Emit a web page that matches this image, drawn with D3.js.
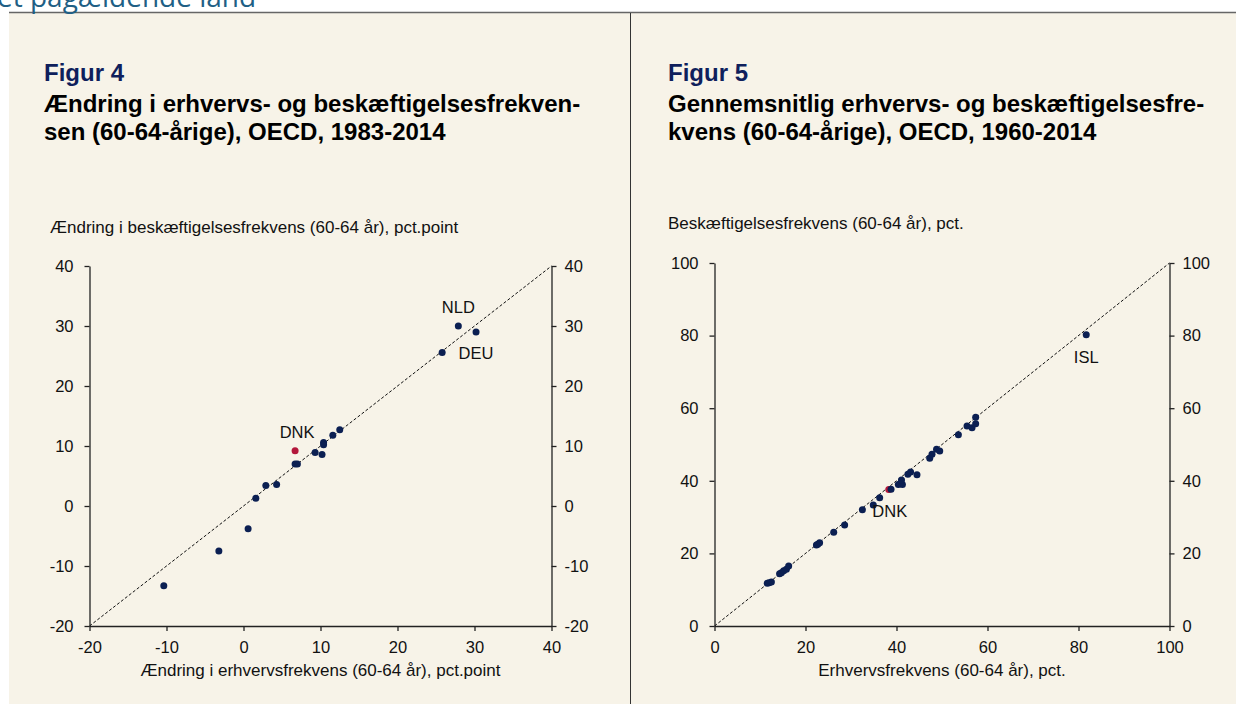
<!DOCTYPE html>
<html><head><meta charset="utf-8">
<script src="https://cdn.jsdelivr.net/npm/d3@7"></script>
<style>
body{margin:0;background:#fff;}
svg{display:block;font-family:"Liberation Sans",Arial,sans-serif;}
</style></head>
<body><svg id="c" width="1236" height="704"></svg>
<script>
// Figur 4 data: change in participation rate (x) vs change in employment rate (y), pct.point
const fig4Countries = ["A","B","C","D","E","F","G","H","DNK","I","J","K","L","M","N","O","NLD","DEU"];
const fig4X = [-10.35,-3.2,0.6,1.6,2.9,4.3,6.7,7.0,6.7,9.3,10.2,10.4,10.4,11.6,12.5,25.8,27.9,30.2];
const fig4Y = [-13.3,-7.5,-3.8,1.3,3.4,3.6,7.0,7.0,9.2,8.9,8.6,10.6,10.2,11.8,12.7,25.6,30.0,29.0];
// Figur 5 data: average participation rate (x) vs employment rate (y), pct.
const fig5X = [11.6,12.0,12.5,14.3,14.7,15.2,15.8,16.3,22.4,22.7,23.1,26.2,28.6,32.5,34.9,36.3,38.3,38.8,40.4,40.9,41.3,41.1,42.5,43.1,44.5,47.3,47.8,48.8,49.5,53.6,55.5,56.6,57.4,57.4,81.7];
const fig5Y = [11.8,11.9,12.1,14.4,14.7,15.2,15.6,16.5,22.3,22.5,22.9,25.8,27.8,32.0,33.3,35.3,37.6,37.7,39.0,39.3,39.0,40.2,41.8,42.4,41.7,46.2,47.3,48.7,48.2,52.7,55.1,54.6,55.7,57.5,80.2];
const fig5Countries = fig5X.map((d,i)=> i===16 ? "DNK" : (i===34 ? "ISL" : "c"+i));
const fig4Ticks = [-20,-10,0,10,20,30,40];
const fig5Ticks = [0,20,40,60,80,100];

const svg = d3.select("#c");
const navy = "#0b1f52", red = "#b3173b", bg = "#f7f3e8";
const FS = 16.5, TS = 17;

// background panels
svg.append("rect").attr("x",9).attr("y",13).attr("width",1227).attr("height",691).attr("fill",bg);
svg.append("line").attr("x1",9).attr("x2",1236).attr("y1",12.5).attr("y2",12.5).attr("stroke","#666").attr("stroke-width",1.5);
svg.append("line").attr("x1",630.5).attr("x2",630.5).attr("y1",13).attr("y2",704).attr("stroke","#333").attr("stroke-width",1);
svg.append("text").attr("x",-3).attr("y",6.5).attr("font-family","'Open Sans',sans-serif").attr("font-size",28).attr("fill","#1f5f85").text("et pågældende land");

function panel(opt){
  const g = svg.append("g");
  g.append("text").attr("x",opt.tx).attr("y",81).attr("font-size",24).attr("font-weight","bold").attr("fill","#0f1f5c").text(opt.fig);
  opt.title.forEach((t,i)=> g.append("text").attr("x",opt.tx).attr("y",112+i*27.5).attr("font-size",24).attr("font-weight","bold").attr("fill","#000").text(t));
  g.append("text").attr("x",opt.ytx).attr("y",opt.yty).attr("font-size",TS).attr("fill","#111").text(opt.ytitle);
  const x = d3.scaleLinear().domain(opt.dom).range(opt.xr);
  const y = d3.scaleLinear().domain(opt.dom).range(opt.yr);
  const fmt = d => String(d);
  const ax = g.append("g").attr("transform",`translate(0,${opt.yr[0]})`).call(d3.axisBottom(x).tickValues(opt.ticks).tickFormat(fmt).tickSize(5).tickSizeOuter(0));
  const al = g.append("g").attr("transform",`translate(${opt.xr[0]},0)`).call(d3.axisLeft(y).tickValues(opt.ticks).tickFormat(fmt).tickSize(5).tickSizeOuter(0));
  const ar = g.append("g").attr("transform",`translate(${opt.xr[1]},0)`).call(d3.axisRight(y).tickValues(opt.ticks).tickFormat(fmt).tickSize(5).tickSizeOuter(0));
  [ax,al,ar].forEach(a=>{
    a.selectAll("path").attr("stroke","#222").attr("stroke-width",1.3);
    a.selectAll("line").attr("stroke","#222").attr("stroke-width",1.3);
    a.selectAll("text").attr("font-size",FS).attr("fill","#111").attr("font-family","'Liberation Sans',Arial,sans-serif");
  });
  ax.selectAll("text").attr("y",15);
  al.selectAll("text").attr("x",-16);
  ar.selectAll("text").attr("x",13);
  g.append("text").attr("x",(opt.xr[0]+opt.xr[1])/2).attr("y",676).attr("text-anchor","middle").attr("font-size",TS).attr("fill","#111").text(opt.xtitle);
  g.append("line").attr("x1",x(opt.dom[0])).attr("y1",y(opt.dom[0])).attr("x2",x(opt.dom[1])).attr("y2",y(opt.dom[1]))
    .attr("stroke","#111").attr("stroke-width",1).attr("stroke-dasharray","3,2");
  const data = opt.xs.map((v,i)=>({x:v,y:opt.ys[i],c:opt.cs[i]}));
  g.selectAll("circle.p").data(data).join("circle").attr("cx",d=>x(d.x)).attr("cy",d=>y(d.y)).attr("r",3.5)
    .attr("fill",d=>d.c==="DNK"?red:navy);
  opt.labels.forEach(l=>{
    const d = data.find(e=>e.c===l.c);
    g.append("text").attr("x",x(d.x)+l.dx).attr("y",y(d.y)+l.dy).attr("text-anchor","middle").attr("font-size",FS).attr("fill","#111").text(l.c);
  });
}

panel({fig:"Figur 4", tx:44, title:["Ændring i erhvervs- og beskæftigelsesfrekven-","sen (60-64-årige), OECD, 1983-2014"],
  ytitle:"Ændring i beskæftigelsesfrekvens (60-64 år), pct.point", ytx:50, yty:233,
  xtitle:"Ændring i erhvervsfrekvens (60-64 år), pct.point",
  dom:[-20,40], xr:[89.5,551.5], yr:[626,266], ticks:fig4Ticks,
  xs:fig4X, ys:fig4Y, cs:fig4Countries,
  labels:[{c:"NLD",dx:0,dy:-13},{c:"DEU",dx:0,dy:27},{c:"DNK",dx:2,dy:-13}]});

panel({fig:"Figur 5", tx:668, title:["Gennemsnitlig erhvervs- og beskæftigelsesfre-","kvens (60-64-årige), OECD, 1960-2014"],
  ytitle:"Beskæftigelsesfrekvens (60-64 år), pct.", ytx:668, yty:229,
  xtitle:"Erhvervsfrekvens (60-64 år), pct.",
  dom:[0,100], xr:[714.5,1169.5], yr:[626,263], ticks:fig5Ticks,
  xs:fig5X, ys:fig5Y, cs:fig5Countries,
  labels:[{c:"DNK",dx:1,dy:27},{c:"ISL",dx:0,dy:28}]});
</script></body></html>
